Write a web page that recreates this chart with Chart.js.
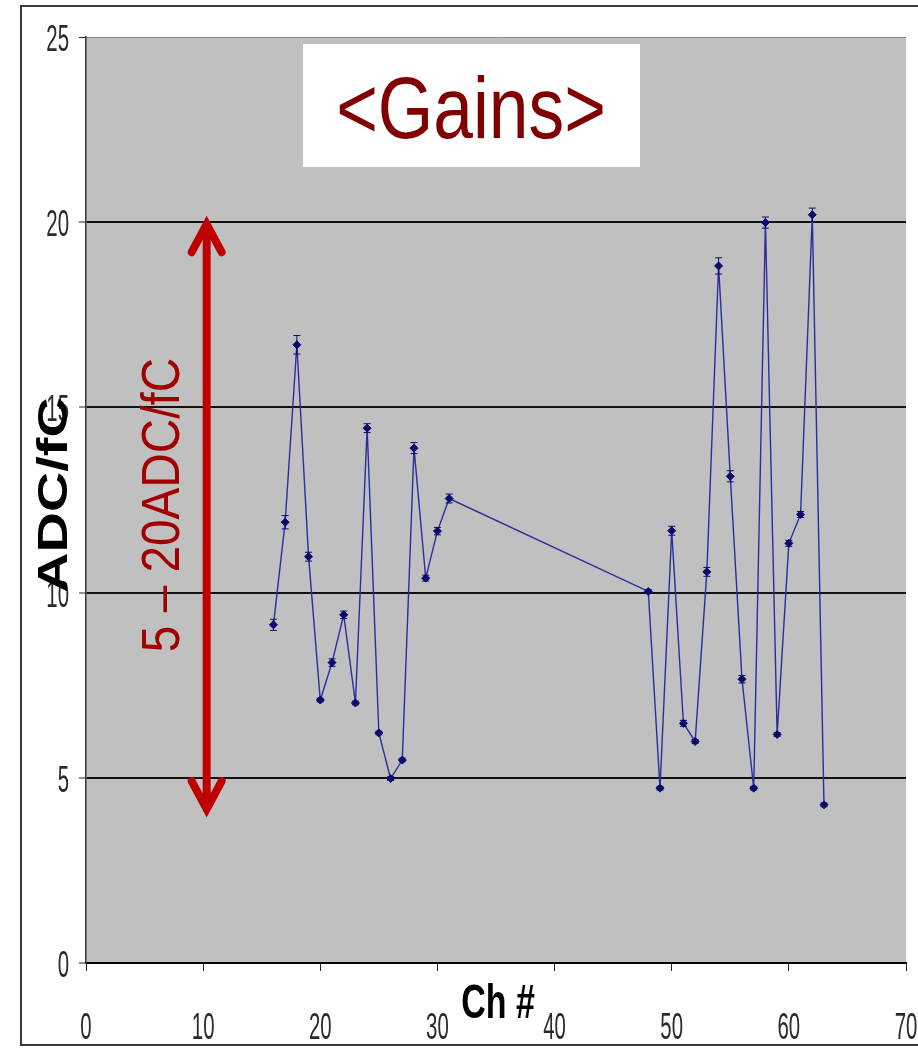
<!DOCTYPE html>
<html>
<head>
<meta charset="utf-8">
<script src="https://cdn.jsdelivr.net/npm/chart.js@4/dist/chart.umd.min.js"></script>
<style>
  html, body { margin: 0; padding: 0; background: #ffffff; }
  #wrap { width: 918px; height: 1049px; position: relative; }
</style>
</head>
<body>
<div id="wrap"><canvas id="c" width="918" height="1049"></canvas></div>
<script>
// ---- data ----
const channels = [16,17,18,19,20,21,22,23,24,25,26,27,28,29,30,31,
                  48,49,50,51,52,53,54,55,56,57,58,59,60,61,62,63];
const gains = [9.13,11.9,16.69,10.97,7.10,8.11,9.40,7.02,14.44,6.21,4.98,5.48,13.90,10.39,11.66,12.54,
               10.03,4.72,11.67,6.47,5.98,10.56,18.82,13.14,7.66,4.72,19.99,6.17,11.33,12.11,20.20,4.27];
const gainErrors = [0.15,0.18,0.25,0.12,0.05,0.10,0.10,0.05,0.12,0.05,0.05,0.05,0.15,0.08,0.10,0.12,
                    0.05,0.05,0.12,0.08,0.05,0.12,0.22,0.15,0.10,0.05,0.15,0.05,0.08,0.08,0.18,0.05];
const xRange = [0, 70];
const xStep = 10;
const yRange = [0, 25];
const yStep = 5;
const titleText = '<Gains>';
const xTitle = 'Ch #';
const yTitle = 'ADC/fC';
const rangeLabel = '5 \u2013 20ADC/fC';
const arrowChannel = 10.3;
const arrowRange = [20, 4.1];

const points = channels.map((c, i) => ({ x: c, y: gains[i] }));

function drawText(ctx, text, x, y, o) {
  ctx.save();
  ctx.translate(x, y);
  if (o.rot) ctx.rotate(o.rot);
  ctx.scale(o.sx || 1, o.sy || 1);
  ctx.font = o.font;
  ctx.fillStyle = o.color;
  ctx.textAlign = o.align || 'center';
  ctx.textBaseline = o.baseline || 'alphabetic';
  ctx.fillText(text, 0, 0);
  ctx.restore();
}

const decor = {
  id: 'decor',
  beforeDraw(chart) {
    const { ctx, chartArea: a } = chart;
    ctx.save();
    ctx.fillStyle = '#ffffff';
    ctx.fillRect(0, 0, chart.width, chart.height);
    ctx.fillStyle = '#c0c0c0';
    ctx.fillRect(a.left, a.top, a.right - a.left, a.bottom - a.top);
    ctx.restore();
  },
  afterDatasetsDraw(chart) {
    const { ctx } = chart;
    const xs = chart.scales.x, ys = chart.scales.y;
    ctx.save();
    ctx.strokeStyle = '#0a0a6e';
    ctx.lineWidth = 1;
    channels.forEach((c, i) => {
      const px = xs.getPixelForValue(c);
      const top = ys.getPixelForValue(gains[i] + gainErrors[i]);
      const bot = ys.getPixelForValue(gains[i] - gainErrors[i]);
      ctx.beginPath();
      ctx.moveTo(px, top); ctx.lineTo(px, bot);
      ctx.moveTo(px - 3.5, top); ctx.lineTo(px + 3.5, top);
      ctx.moveTo(px - 3.5, bot); ctx.lineTo(px + 3.5, bot);
      ctx.stroke();
    });
    ctx.restore();
  },
  afterDraw(chart) {
    const { ctx } = chart;
    const xs = chart.scales.x, ys = chart.scales.y;
    ctx.save();
    // outer frame
    ctx.strokeStyle = '#3a3a3a';
    ctx.lineWidth = 2;
    ctx.strokeRect(21, 6, 930, 1039);

    // tick labels
    ys.ticks.forEach(t => {
      drawText(ctx, String(t.value), 69, ys.getPixelForValue(t.value) + 14,
        { font: '24px "Liberation Sans"', color: '#2a2a2a', align: 'right', sx: 0.85, sy: 1.55 });
    });
    xs.ticks.forEach(t => {
      drawText(ctx, String(t.value), xs.getPixelForValue(t.value), 1039,
        { font: '24px "Liberation Sans"', color: '#2a2a2a', align: 'center', sx: 0.85, sy: 1.55 });
    });

    // axis titles
    drawText(ctx, xTitle, 498, 1018,
      { font: 'bold 40px "Liberation Sans"', color: '#000', sx: 0.85, sy: 1.22 });
    drawText(ctx, yTitle, 67, 495,
      { font: 'bold 42px "Liberation Sans"', color: '#000', rot: -Math.PI / 2, sx: 1.33 });

    // red range arrow
    const ax = xs.getPixelForValue(arrowChannel);
    const ay1 = ys.getPixelForValue(arrowRange[0]);
    const ay2 = ys.getPixelForValue(arrowRange[1]);
    ctx.strokeStyle = '#c00000';
    ctx.lineWidth = 8;
    ctx.lineCap = 'round';
    ctx.beginPath();
    ctx.moveTo(ax, ay1 + 4); ctx.lineTo(ax, ay2 - 4);
    ctx.stroke();
    ctx.beginPath();
    ctx.moveTo(ax - 15, ay1 + 30); ctx.lineTo(ax, ay1 + 2); ctx.lineTo(ax + 15, ay1 + 30);
    ctx.moveTo(ax - 15, ay2 - 30); ctx.lineTo(ax, ay2 - 2); ctx.lineTo(ax + 15, ay2 - 30);
    ctx.stroke();

    // red range label
    drawText(ctx, rangeLabel, 179, 505,
      { font: '53px "Liberation Sans"', color: '#a00000', rot: -Math.PI / 2, sx: 0.9 });

    // title box
    ctx.fillStyle = '#ffffff';
    ctx.fillRect(303, 44, 337, 123);
    drawText(ctx, titleText, 471, 138,
      { font: '87px "Liberation Sans"', color: '#800000', sx: 0.82 });
    ctx.restore();
  }
};

new Chart(document.getElementById('c'), {
  type: 'line',
  data: {
    datasets: [{
      data: points,
      borderColor: '#2c2c9c',
      borderWidth: 1.4,
      pointStyle: 'rectRot',
      pointRadius: 4,
      pointBackgroundColor: '#0a0a6e',
      pointBorderColor: '#0a0a6e',
      pointBorderWidth: 1,
      tension: 0,
      fill: false
    }]
  },
  options: {
    responsive: false,
    animation: false,
    events: [],
    layout: { padding: { left: 0, right: 12, top: 37, bottom: 0 } },
    plugins: { legend: { display: false }, tooltip: { enabled: false }, title: { display: false } },
    scales: {
      x: {
        type: 'linear',
        min: xRange[0], max: xRange[1],
        ticks: { stepSize: xStep, display: false },
        grid: { drawOnChartArea: false, drawTicks: true, tickLength: 8, tickColor: '#222', tickWidth: 1 },
        border: { display: true, color: '#000', width: 2 },
        afterFit(s) { s.height = 86; }
      },
      y: {
        type: 'linear',
        min: yRange[0], max: yRange[1],
        ticks: { stepSize: yStep, display: false },
        grid: {
          drawTicks: true, tickLength: 7, tickColor: '#222', tickWidth: 1,
          color: c => (c.tick && c.tick.value === yRange[1]) ? '#8a8a8a' : '#111',
          lineWidth: c => (c.tick && c.tick.value === yRange[1]) ? 1 : 2
        },
        border: { display: true, color: '#333', width: 1.5 },
        afterFit(s) { s.width = 86; }
      }
    }
  },
  plugins: [decor]
});
</script>
</body>
</html>
